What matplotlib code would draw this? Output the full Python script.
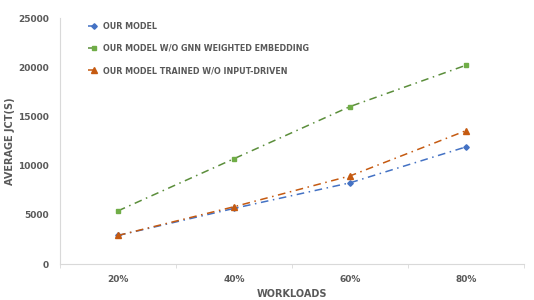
import numpy as np
import matplotlib
matplotlib.use("Agg")
import matplotlib.pyplot as plt

# data
workloads = ["20%", "40%", "60%", "80%"]
our_model = [2900, 5650, 8250, 11900]
no_gnn = [5400, 10700, 16000, 20200]
no_input = [2900, 5820, 8950, 13550]

grey = "#595959"
plt.rcParams["font.family"] = "DejaVu Sans"
plt.rcParams["font.weight"] = "bold"

fig = plt.figure(figsize=(5.34, 3.0), dpi=100)
ax = fig.add_axes([60 / 534, 36 / 300, 464 / 534, 246 / 300])

x = np.arange(len(workloads))
dash = (5, 3, 1, 3)
ax.plot(x, our_model, color="#4472C4", dashes=dash, linewidth=1.1,
        marker="D", markersize=2.8, label="OUR MODEL")
ax.plot(x, no_gnn, color="#5B8E3B", dashes=dash, linewidth=1.1,
        marker="s", markersize=3.5, markerfacecolor="#70AD47", markeredgecolor="#70AD47",
        label="OUR MODEL W/O GNN WEIGHTED EMBEDDING")
ax.plot(x, no_input, color="#C55A11", dashes=dash, linewidth=1.1,
        marker="^", markersize=3.8, label="OUR MODEL TRAINED W/O INPUT-DRIVEN")

ax.set_xlim(-0.5, 3.5)
ax.set_ylim(0, 25000)
ax.set_yticks(range(0, 25001, 5000))
ax.set_xticks(x)
ax.set_xticklabels(workloads)
ax.set_xticks(np.arange(-0.5, 3.6, 1), minor=True)
ax.tick_params(axis="x", which="major", length=0, pad=8, labelsize=6.5, colors=grey)
ax.tick_params(axis="x", which="minor", length=3, color="#D9D9D9")
ax.tick_params(axis="y", length=0, pad=8, labelsize=6.5, colors=grey)

for s in ["top", "right"]:
    ax.spines[s].set_visible(False)
for s in ["left", "bottom"]:
    ax.spines[s].set_color("#D9D9D9")
    ax.spines[s].set_linewidth(0.8)

ax.set_xlabel("WORKLOADS", fontsize=7, color=grey, fontweight="bold")
ax.set_ylabel("AVERAGE JCT(S)", fontsize=7, color=grey, fontweight="bold")
ax.xaxis.set_label_coords(0.5, -0.1)
ax.yaxis.set_label_coords(-0.097, 0.5)

leg = ax.legend(loc="upper left", bbox_to_anchor=(0.045, 1.015), frameon=False,
                fontsize=5.8, labelspacing=1.65, handlelength=1.5, handletextpad=0.3,
                labelcolor=grey)

fig.savefig("out.png", dpi=100)
